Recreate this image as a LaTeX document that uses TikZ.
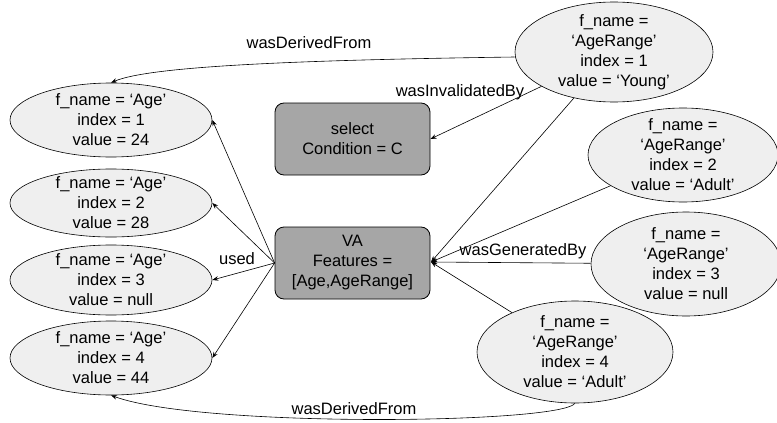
\documentclass[tikz,border=0pt]{standalone}
\usepackage{fontspec}
\setmainfont{Liberation Sans}
\usetikzlibrary{shapes.geometric,arrows.meta}
\begin{document}
\begin{tikzpicture}[x=1pt,y=-1pt,
  ell/.style={ellipse,draw=black,fill=ellfill,line width=0.6pt,inner sep=-12pt,align=center,font=\fontsize{16.5}{20}\selectfont},
  box/.style={rectangle,rounded corners=9pt,draw=black,fill=boxfill,line width=0.8pt,inner sep=0pt,align=center,font=\fontsize{16.5}{20}\selectfont},
  arr/.style={-{Stealth[length=6pt,width=4.5pt]},line width=0.6pt},
  lbl/.style={font=\fontsize{16.5}{20}\selectfont}]
\definecolor{ellfill}{HTML}{EFEFEF}
\definecolor{boxfill}{HTML}{A6A6A6}
\useasboundingbox (0,0) rectangle (777,423);
% left Age ellipses
\node[ell,minimum width=202pt,minimum height=74pt] (a1) at (111,120) {f\_name = ‘Age’\\index = 1\\value = 24};
\node[ell,minimum width=202pt,minimum height=68pt] (a2) at (111,203) {f\_name = ‘Age’\\index = 2\\value = 28};
\node[ell,minimum width=202pt,minimum height=70pt] (a3) at (111,280) {f\_name = ‘Age’\\index = 3\\value = null};
\node[ell,minimum width=202pt,minimum height=74pt] (a4) at (111,358) {f\_name = ‘Age’\\index = 4\\value = 44};
% boxes
\node[box,minimum width=155pt,minimum height=72pt] (sel) at (352.5,139) {select\\Condition = C};
\node[box,minimum width=155pt,minimum height=72pt] (va) at (352.5,263) {VA\\Features =\\{[}Age,AgeRange{]}};
% right AgeRange ellipses
\node[ell,minimum width=198pt,minimum height=100pt] (r1) at (614,52) {f\_name =\\‘AgeRange’\\index = 1\\value = ‘Young’};
\node[ell,minimum width=190pt,minimum height=94pt] (r2) at (683,155) {f\_name =\\‘AgeRange’\\index = 2\\value = ‘Adult’};
\node[ell,minimum width=190pt,minimum height=104pt] (r3) at (686,264) {f\_name =\\‘AgeRange’\\index = 3\\value = null};
\node[ell,minimum width=196pt,minimum height=102pt] (r4) at (575,352) {f\_name =\\‘AgeRange’\\index = 4\\value = ‘Adult’};
\coordinate (vaR) at (431,262);
% used
\draw[arr] (va.west) -- (a1.east);
\draw[arr] (va.west) -- (a2.east);
\draw[arr] (va.west) -- (a3.east);
\draw[arr] (va.west) -- (a4.east);
\node[lbl] (used) at (237,259) {used};
% wasGeneratedBy
\draw[arr] (r1) -- (vaR);
\draw[arr] (r2) -- (vaR);
\draw[arr] (r3) -- (vaR);
\draw[arr] (r4) -- (vaR);
\node[lbl] (gen) at (523,251) {wasGeneratedBy};
% wasInvalidatedBy
\draw[arr] (r1) -- (sel.east);
\node[lbl] (inv) at (460,92) {wasInvalidatedBy};
% wasDerivedFrom
\draw[arr] (r1.west |- 0,57) .. controls (300,60) and (150,66) .. (a1.north);
\node[lbl] (der1) at (309,43) {wasDerivedFrom};
\draw[arr] (r4.south) .. controls (560,424) and (200,428) .. (a4.south);
\node[lbl] (der2) at (354,409) {wasDerivedFrom};
\end{tikzpicture}
\end{document}
